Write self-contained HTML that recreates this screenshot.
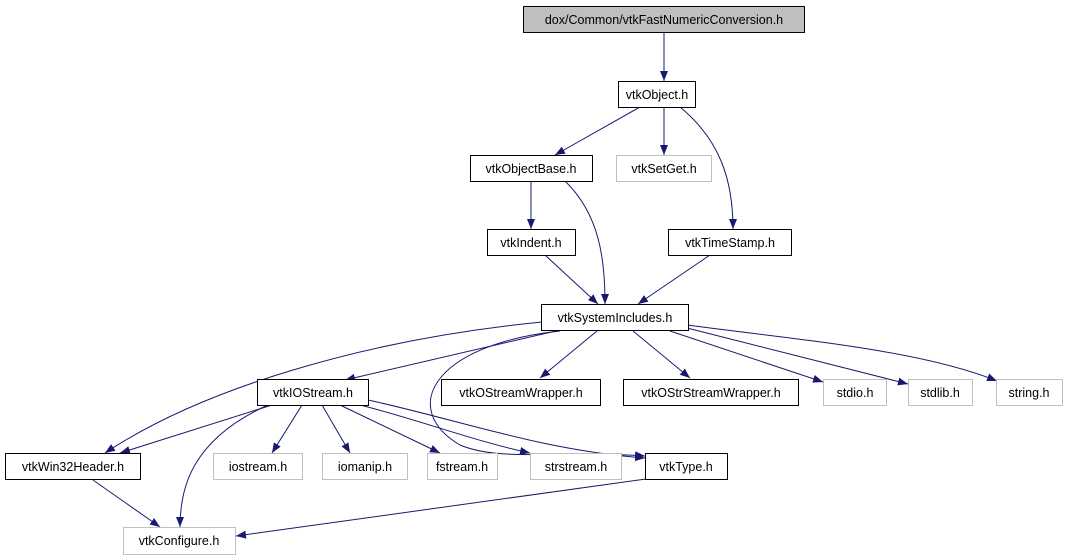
<!DOCTYPE html>
<html><head><meta charset="utf-8"><style>
html,body{margin:0;padding:0;background:#fff;}
svg{display:block;}
text{font-family:"Liberation Sans",sans-serif;font-size:12.5px;fill:#000;}
</style></head><body>
<svg width="1068" height="560" viewBox="0 0 1068 560" xmlns="http://www.w3.org/2000/svg">
<defs>
<marker id="a" viewBox="0 0 10 10" refX="10" refY="5" markerWidth="10" markerHeight="10" markerUnits="userSpaceOnUse" orient="auto">
<path d="M0,1 L10,5 L0,9 z" fill="#191970"/>
</marker>
</defs>
<g fill="none" stroke="#191970" stroke-width="1" marker-end="url(#a)">
<path d="M664,32 L664,81"/>
<path d="M640,107 L555,155"/>
<path d="M664,107 L664,155"/>
<path d="M680,107 C720,140 733,180 733,229"/>
<path d="M531,181 L531,229"/>
<path d="M565,181 C600,215 605,260 605,304"/>
<path d="M545,255 L598,304"/>
<path d="M710,255 L638,304"/>
<path d="M542,322 C360,340 200,390 105,453"/>
<path d="M560,330 L345,380"/>
<path d="M597,331 L540,378"/>
<path d="M633,331 L690,378"/>
<path d="M670,331 L823,382"/>
<path d="M687,328 L908,384"/>
<path d="M687,325 C800,340 920,350 997,381"/>
<path d="M560,331 C430,345 400,410 460,445 C500,462 560,450 645,456"/>
<path d="M272,405 L120,453"/>
<path d="M268,405 C190,440 180,490 180,527"/>
<path d="M302,405 L272,453"/>
<path d="M322,405 L350,453"/>
<path d="M340,405 L440,453"/>
<path d="M360,405 C420,420 470,440 530,453"/>
<path d="M368,400 C460,420 540,450 645,458"/>
<path d="M93,480 L160,527"/>
<path d="M646,479 L236,536"/>
</g>
<g stroke-width="1">
<rect x="523.5" y="6.5" width="281" height="26" fill="#bfbfbf" stroke="#000"/>
<rect x="618.5" y="81.5" width="77" height="26" fill="#fff" stroke="#000"/>
<rect x="470.5" y="155.5" width="122" height="26" fill="#fff" stroke="#000"/>
<rect x="616.5" y="155.5" width="95" height="26" fill="#fff" stroke="#bfbfbf"/>
<rect x="487.5" y="229.5" width="88" height="26" fill="#fff" stroke="#000"/>
<rect x="668.5" y="229.5" width="123" height="26" fill="#fff" stroke="#000"/>
<rect x="541.5" y="304.5" width="147" height="26" fill="#fff" stroke="#000"/>
<rect x="257.5" y="379.5" width="111" height="26" fill="#fff" stroke="#000"/>
<rect x="441.5" y="379.5" width="159" height="26" fill="#fff" stroke="#000"/>
<rect x="623.5" y="379.5" width="175" height="26" fill="#fff" stroke="#000"/>
<rect x="823.5" y="379.5" width="63" height="26" fill="#fff" stroke="#bfbfbf"/>
<rect x="908.5" y="379.5" width="64" height="26" fill="#fff" stroke="#bfbfbf"/>
<rect x="996.5" y="379.5" width="66" height="26" fill="#fff" stroke="#bfbfbf"/>
<rect x="5.5" y="453.5" width="135" height="26" fill="#fff" stroke="#000"/>
<rect x="213.5" y="453.5" width="89" height="26" fill="#fff" stroke="#bfbfbf"/>
<rect x="322.5" y="453.5" width="85" height="26" fill="#fff" stroke="#bfbfbf"/>
<rect x="427.5" y="453.5" width="70" height="26" fill="#fff" stroke="#bfbfbf"/>
<rect x="530.5" y="453.5" width="91" height="26" fill="#fff" stroke="#bfbfbf"/>
<rect x="645.5" y="453.5" width="82" height="26" fill="#fff" stroke="#000"/>
<rect x="123.5" y="527.5" width="112" height="27" fill="#fff" stroke="#bfbfbf"/>
</g>
<g text-anchor="middle">
<text x="664" y="24">dox/Common/vtkFastNumericConversion.h</text>
<text x="657" y="99">vtkObject.h</text>
<text x="531" y="173">vtkObjectBase.h</text>
<text x="664" y="173">vtkSetGet.h</text>
<text x="531" y="247">vtkIndent.h</text>
<text x="730" y="247">vtkTimeStamp.h</text>
<text x="615" y="322">vtkSystemIncludes.h</text>
<text x="313" y="397">vtkIOStream.h</text>
<text x="521" y="397">vtkOStreamWrapper.h</text>
<text x="711" y="397">vtkOStrStreamWrapper.h</text>
<text x="855" y="397">stdio.h</text>
<text x="940" y="397">stdlib.h</text>
<text x="1029" y="397">string.h</text>
<text x="73" y="471">vtkWin32Header.h</text>
<text x="258" y="471">iostream.h</text>
<text x="365" y="471">iomanip.h</text>
<text x="462" y="471">fstream.h</text>
<text x="576" y="471">strstream.h</text>
<text x="686" y="471">vtkType.h</text>
<text x="179" y="545">vtkConfigure.h</text>
</g>
</svg>
</body></html>
